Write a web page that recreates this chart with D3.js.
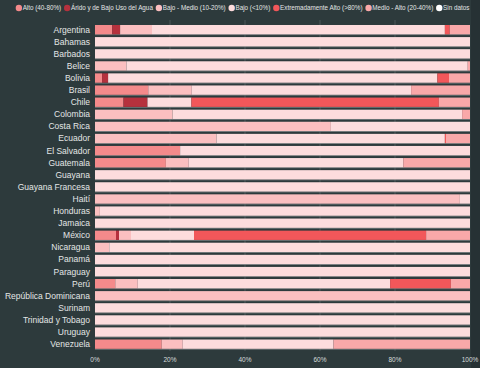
<!DOCTYPE html>
<html>
<head>
<meta charset="utf-8">
<script src="https://cdn.jsdelivr.net/npm/d3@7"></script>
<style>
  body { margin: 0; background: #2d3a3c; }
  svg { display: block; font-family: "Liberation Sans", Arial, sans-serif; }
</style>
</head>
<body>
<svg width="480" height="368"></svg>
<script>
// categories in stack order (same as legend)
var categories = ["Alto (40-80%)", "Árido y de Bajo Uso del Agua", "Bajo - Medio (10-20%)",
    "Bajo (<10%)", "Extremadamente Alto (>80%)", "Medio - Alto (20-40%)", "Sin datos"];
var colors = ["#f48a8b", "#b5313d", "#fbbfc0", "#fddcdd", "#f2575a", "#f9a8a9", "#ffffff"];

var countries = ["Argentina", "Bahamas", "Barbados", "Belice", "Bolivia", "Brasil", "Chile",
    "Colombia", "Costa Rica", "Ecuador", "El Salvador", "Guatemala", "Guayana", "Guayana Francesa",
    "Haití", "Honduras", "Jamaica", "México", "Nicaragua", "Panamá", "Paraguay", "Perú",
    "República Dominicana", "Surinam", "Trinidad y Tobago", "Uruguay", "Venezuela"];

// percent of area per category, one array per category (order = countries)
var alto      = [4.6, 0, 0, 0, 1.9, 14.2, 7.6, 0, 0, 0, 22.7, 18.9, 0, 0, 0, 0, 0, 5.6, 0, 0, 0, 5.4, 0, 0, 0, 0, 17.8];
var arido     = [2.1, 0, 0, 0, 1.6, 0, 6.4, 0, 0, 0, 0, 0, 0, 0, 0, 0, 0, 0.8, 0, 0, 0, 0, 0, 0, 0, 0, 0];
var bajoMedio = [8.5, 0, 0, 8.4, 0, 11.6, 0, 20.7, 62.9, 32.4, 0, 6.1, 0, 0, 97.3, 1.3, 0, 3.2, 3.8, 0, 0, 6.0, 100, 0, 0, 0, 5.6];
var bajo      = [78.1, 100, 100, 91.0, 87.8, 58.5, 11.7, 77.2, 37.1, 60.9, 77.3, 57.2, 100, 100, 2.7, 98.7, 100, 16.8, 96.2, 100, 100, 67.3, 0, 100, 100, 100, 40.2];
var extremo   = [1.3, 0, 0, 0, 3.1, 0, 66.0, 0, 0, 0.3, 0, 0, 0, 0, 0, 0, 0, 61.9, 0, 0, 0, 16.2, 0, 0, 0, 0, 0];
var medioAlto = [5.4, 0, 0, 0.6, 5.6, 15.7, 8.3, 2.1, 0, 6.4, 0, 17.8, 0, 0, 0, 0, 0, 11.7, 0, 0, 0, 5.1, 0, 0, 0, 0, 36.4];
var sinDatos  = countries.map(function() { return 0; });

var ticks = [0, 20, 40, 60, 80, 100];

var series = [alto, arido, bajoMedio, bajo, extremo, medioAlto, sinDatos];
var table = countries.map(function(c, i) {
    var row = { country: c };
    categories.forEach(function(k, j) { row[k] = series[j][i]; });
    return row;
});

var svg = d3.select("svg");

// darker strip on the right side
svg.append("rect").attr("x", 471).attr("y", 0).attr("width", 9).attr("height", 368).attr("fill", "#263134");

var x = d3.scaleLinear().domain([0, 100]).range([95, 470]);
var y = d3.scaleBand().domain(countries).range([23.6, 350.2]).paddingInner(0.23).paddingOuter(0.115);

// grid lines
svg.append("g").selectAll("line").data(ticks.slice(1, -1)).enter().append("line")
    .attr("x1", function(d) { return x(d); }).attr("x2", function(d) { return x(d); })
    .attr("y1", 20).attr("y2", 351)
    .attr("stroke", "#4c5759").attr("stroke-width", 1);

// thin shadow line under each bar
svg.append("g").selectAll("rect").data(countries).enter().append("rect")
    .attr("x", x(0)).attr("width", x(100) - x(0))
    .attr("y", function(d) { return y(d) + y.bandwidth(); }).attr("height", 0.8)
    .attr("fill", "#7a8284");

var stack = d3.stack().keys(categories)(table);

svg.append("g").selectAll("g").data(stack).enter().append("g")
    .attr("fill", function(d, i) { return colors[i]; })
    .selectAll("rect").data(function(d) { return d; }).enter().append("rect")
    .attr("x", function(d) { return x(d[0]); })
    .attr("width", function(d) { return x(d[1]) - x(d[0]); })
    .attr("y", function(d) { return y(d.data.country); })
    .attr("height", y.bandwidth());

// country labels
svg.append("g").selectAll("text").data(countries).enter().append("text")
    .attr("x", 90).attr("y", function(d) { return y(d) + y.bandwidth() / 2; })
    .attr("dy", "0.35em").attr("text-anchor", "end")
    .attr("font-size", 8.5).attr("fill", "#e4e6e6")
    .text(function(d) { return d; });

// x axis labels
svg.append("g").selectAll("text").data(ticks).enter().append("text")
    .attr("x", function(d) { return x(d); }).attr("y", 362)
    .attr("text-anchor", "middle").attr("font-size", 6.5).attr("fill", "#d8dcdc")
    .text(function(d) { return d + "%"; });

// legend, centered
var legend = svg.append("g");
var items = legend.selectAll("g").data(categories).enter().append("g");
items.append("circle").attr("r", 3.2).attr("cx", 0).attr("cy", 0)
    .attr("fill", function(d, i) { return colors[i]; });
items.append("text").attr("x", 3.8).attr("dy", "0.35em")
    .attr("font-size", 6.3).attr("fill", "#e4e6e6")
    .text(function(d) { return d; });
var pos = 0;
items.each(function() {
    var w = d3.select(this).select("text").node().getComputedTextLength();
    d3.select(this).attr("transform", "translate(" + pos + ",0)");
    pos += w + 3.8 + 6;
});
var total = pos - 6 + 3.2;
legend.attr("transform", "translate(" + (242.5 - total / 2 + 3.2) + ",8)");
</script>
</body>
</html>
